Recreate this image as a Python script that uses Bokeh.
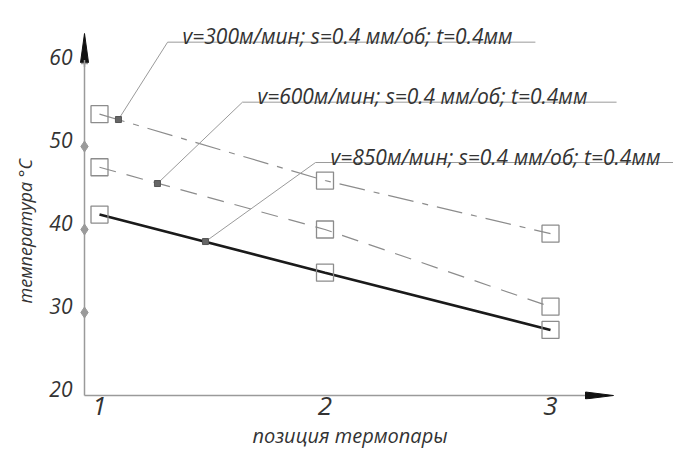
from bokeh.plotting import figure
from bokeh.models import Range1d, FixedTicker, Title, LinearAxis
from bokeh.core.properties import value
from bokeh.embed import file_html
from bokeh.resources import INLINE

# ---- data ----
positions = [1, 2, 3]
temp_v300 = [53.9, 45.9, 39.5]
temp_v600 = [47.5, 40.0, 30.7]
temp_v850 = [41.8, 34.8, 27.9]
x_ticks = [1, 2, 3]
y_ticks = [20, 30, 40, 50, 60]
y_marks = [30, 40, 50]

x_title = "позиция термопары"
y_title = "температура °C"

callout_labels = [
    "v=300м/мин; s=0.4 мм/об; t=0.4мм",
    "v=600м/мин; s=0.4 мм/об; t=0.4мм",
    "v=850м/мин; s=0.4 мм/об; t=0.4мм",
]
callout_anchor_x = [1.084, 1.257, 1.47]
callout_anchor_y = [53.25, 45.54, 38.55]
callout_elbow_x = [1.302, 1.634, 1.958]
callout_elbow_y = [62.57, 55.34, 48.07]
callout_end_x = [2.933, 3.293, 3.60]

FONT = value("Open Sans")
GRAY = "#9a9a9a"
TXT = "#333333"

# ---- geometry ----
W, H = 673, 455
ML, MB = 76, 56
PXX = 225.5          # pixels per x unit
PXY = 8.3            # pixels per y unit
axis_x = 1 - 15 / PXX          # vertical axis position (data)
axis_y = 20                    # horizontal axis position (data)
x0 = 1 - (99 - ML) / PXX
x1 = x0 + (W - ML) / PXX
y0 = 20 - 4 / PXY
y1 = y0 + (H - MB) / PXY
ux, uy = 1 / PXX, 1 / PXY
label_lift = 7 * uy            # tick labels sit just above their tick marks

p = figure(width=W, height=H, x_range=Range1d(x0, x1), y_range=Range1d(y0, y1),
           output_backend="svg", toolbar_location=None, y_axis_location=None,
           min_border_left=ML, min_border_right=0, min_border_top=0,
           min_border_bottom=MB)
p.outline_line_color = None
p.grid.visible = False
p.background_fill_color = "white"

p.extra_y_ranges = {"labels": Range1d(y0 - label_lift, y1 - label_lift)}
yaxis = LinearAxis(y_range_name="labels")
p.add_layout(yaxis, "left")

for ax in (p.xaxis[0], yaxis):
    ax.axis_line_color = None
    ax.major_tick_line_color = None
    ax.minor_tick_line_color = None
    ax.major_tick_out = 0
    ax.major_tick_in = 0
    ax.minor_tick_out = 0
    ax.minor_tick_in = 0
    ax.major_label_text_font = "Open Sans"
    ax.major_label_text_font_style = "italic"
    ax.major_label_text_color = TXT

p.xaxis.ticker = FixedTicker(ticks=x_ticks)
p.xaxis.major_label_text_font_size = "26px"
p.xaxis.major_label_standoff = -3

yaxis.ticker = FixedTicker(ticks=y_ticks)
yaxis.major_label_text_font_size = "21px"
yaxis.major_label_standoff = 4

# axis titles
p.add_layout(Title(text=x_title, align="left", offset=176, standoff=5,
                   text_font="Open Sans", text_font_style="italic",
                   text_font_size="20px", text_color=TXT), "below")
p.add_layout(Title(text=y_title, align="left", offset=96, standoff=20,
                   text_font="Open Sans", text_font_style="italic",
                   text_font_size="18px", text_color=TXT), "left")

# axis lines with arrow heads
ya_base = 60 + 1 * uy
ya_tip = 60 + 30 * uy
xa_base = 1 + (585 - 99) * ux
xa_tip = 1 + (613 - 99) * ux
p.segment(x0=[axis_x], y0=[axis_y], x1=[axis_x], y1=[ya_base], line_color=GRAY, line_width=1.5)
p.segment(x0=[axis_x], y0=[axis_y], x1=[xa_base + 5 * ux], y1=[axis_y], line_color=GRAY, line_width=1.5)
p.patch(x=[axis_x - 4 * ux, axis_x, axis_x + 4 * ux], y=[ya_base, ya_tip, ya_base], color="#111111")
p.patch(x=[xa_base, xa_tip, xa_base], y=[axis_y + 3.5 * uy, axis_y, axis_y - 3.5 * uy], color="#111111")

# tick marks on y axis
p.scatter(x=[axis_x] * len(y_marks), y=y_marks, marker="diamond", size=11, color=GRAY)
p.scatter(x=[axis_x], y=[y_ticks[-1]], marker="cross", size=7, color=GRAY, line_width=1.5)

# series lines
p.line(positions, temp_v300, line_color="#8c8c8c", line_width=1.2, line_dash="26 9 6 9")
p.line(positions, temp_v600, line_color="#8c8c8c", line_width=1.2, line_dash="17 11")
p.line(positions, temp_v850, line_color="#1a1a1a", line_width=2.6)

# hollow square markers
for ys in (temp_v300, temp_v600, temp_v850):
    p.scatter(positions, ys, marker="square", size=17, fill_color=None,
              line_color="#8c8c8c", line_width=1.3)

# callout leaders
leader_xs = [[a, e, n] for a, e, n in zip(callout_anchor_x, callout_elbow_x, callout_end_x)]
leader_ys = [[a, e, e] for a, e in zip(callout_anchor_y, callout_elbow_y)]
p.multi_line(xs=leader_xs, ys=leader_ys, line_color=GRAY, line_width=1)
p.scatter(callout_anchor_x, callout_anchor_y, marker="square", size=6,
          fill_color="#666666", line_color="#555555")
p.text(x=callout_elbow_x, y=callout_elbow_y, text=callout_labels,
       x_offset=15, y_offset=-6, text_font=FONT, text_font_style="italic",
       text_font_size="21px", text_baseline="alphabetic", text_color=TXT)

open("out.html", "w").write(file_html(p, INLINE))
